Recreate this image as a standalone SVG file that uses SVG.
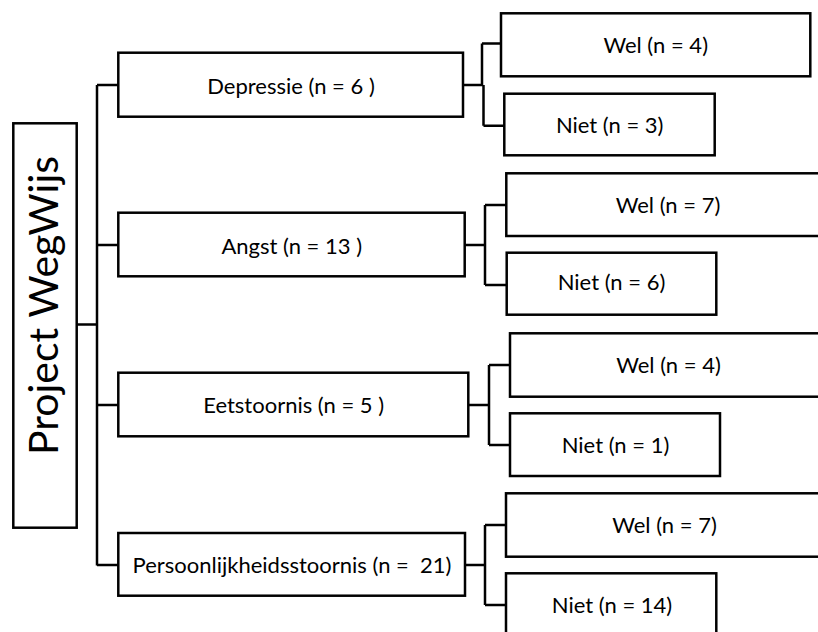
<svg xmlns="http://www.w3.org/2000/svg" width="818" height="632" viewBox="0 0 818 632">
<style>
rect{fill:#fff;stroke:#000;stroke-width:2.5}
.c path{fill:none;stroke:#000;stroke-width:2.5}
text{font-family:Lato,"Open Sans","Liberation Sans",sans-serif;font-size:22px;fill:#000;text-anchor:middle;white-space:pre}
.big{font-size:41px}
</style>
<rect x="0" y="0" width="818" height="632" style="stroke:none"/>
<g class="c" id="connectors">
<path d="M76.7,324.5 H97 M97,85 V565.5 M97,85 H118.3 M97,245 H118.3 M97,405 H118.3 M97,565 H118.3"/>
<path d="M463,85 H483 M482,43.5 V86 M483.5,85 V125.7 M482,43.5 H501 M483.5,125.7 H504.3"/>
<path d="M464.7,245 H485 M485,205 V285 M485,205 H506.3 M485,285 H506.7"/>
<path d="M468.3,405 H489 M489,365 V445 M489,365 H510 M489,445 H510"/>
<path d="M465,565 H485 M485,525 V605 M485,525 H506 M485,605 H506"/>
</g>
<g id="project">
<rect x="13.3" y="123.3" width="63.4" height="404.4"/>
<text class="big" transform="translate(57.5,305.5) rotate(-90)">Project WegWijs</text>
</g>
<g id="depressie">
<rect x="118.3" y="52.7" width="344.7" height="64"/>
<text x="291" y="94.3">Depressie (n = 6 )</text>
</g>
<g id="angst">
<rect x="118.3" y="212.7" width="346.4" height="63.6"/>
<text x="291.7" y="254.3">Angst (n = 13 )</text>
</g>
<g id="eetstoornis">
<rect x="118.3" y="372.7" width="350" height="63.6"/>
<text x="293.7" y="413.3">Eetstoornis (n = 5 )</text>
</g>
<g id="persoonlijkheid">
<rect x="118.3" y="533" width="346.7" height="62.7"/>
<text x="292" y="573.3">Persoonlijkheidsstoornis (n =  21)</text>
</g>
<g id="dep-wel">
<rect x="501" y="13.3" width="309.3" height="63"/>
<text x="655.7" y="52.7">Wel (n = 4)</text>
</g>
<g id="dep-niet">
<rect x="504.3" y="93.7" width="210.4" height="61.6"/>
<text x="609.7" y="133.3">Niet (n = 3)</text>
</g>
<g id="angst-wel">
<rect x="506.3" y="173.3" width="330" height="62.7"/>
<text x="668" y="213.3">Wel (n = 7)</text>
</g>
<g id="angst-niet">
<rect x="506.7" y="252.7" width="209.6" height="62"/>
<text x="611.5" y="290">Niet (n = 6)</text>
</g>
<g id="eet-wel">
<rect x="510" y="333.3" width="330" height="63.4"/>
<text x="668.5" y="373.3">Wel (n = 4)</text>
</g>
<g id="eet-niet">
<rect x="510" y="413.3" width="210" height="62.7"/>
<text x="615.5" y="453.3">Niet (n = 1)</text>
</g>
<g id="pers-wel">
<rect x="506" y="493.3" width="330" height="63.4"/>
<text x="664.5" y="533.3">Wel (n = 7)</text>
</g>
<g id="pers-niet">
<rect x="506" y="573.3" width="210.3" height="80"/>
<text x="612" y="613.3">Niet (n = 14)</text>
</g>
</svg>
